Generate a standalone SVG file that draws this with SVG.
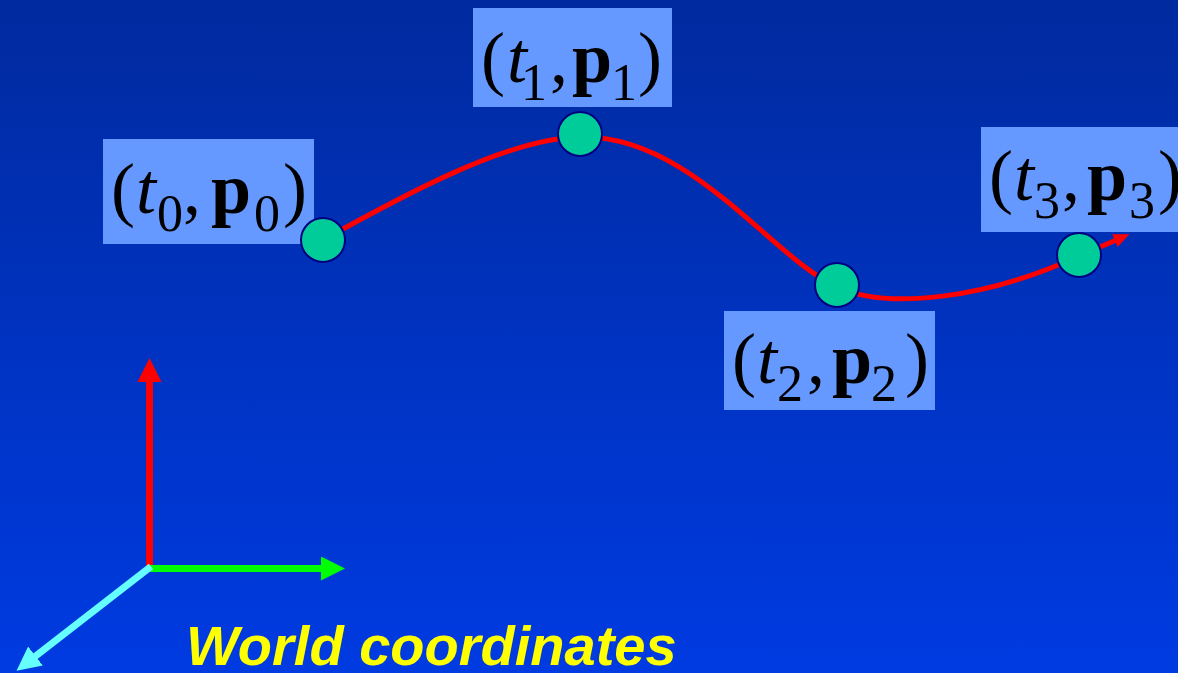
<svg xmlns="http://www.w3.org/2000/svg" width="1178" height="673" viewBox="0 0 1178 673">
  <defs>
    <linearGradient id="bg" x1="0" y1="0" x2="0" y2="1">
      <stop offset="0" stop-color="#002A9E"/>
      <stop offset="1" stop-color="#003BE2"/>
    </linearGradient>
    <marker id="headCurve" markerUnits="userSpaceOnUse" markerWidth="18" markerHeight="16" refX="1" refY="7" orient="auto" viewBox="0 0 18 16">
      <path d="M0,0 L16,7 L0,14 Z" fill="#FF0000"/>
    </marker>
    <marker id="headRed" markerUnits="userSpaceOnUse" markerWidth="26" markerHeight="26" refX="1" refY="12" orient="auto" viewBox="0 0 26 26">
      <path d="M0,0 L24,12 L0,24 Z" fill="#FF0000"/>
    </marker>
    <marker id="headGreen" markerUnits="userSpaceOnUse" markerWidth="26" markerHeight="26" refX="1" refY="12" orient="auto" viewBox="0 0 26 26">
      <path d="M0,0 L24,12 L0,24 Z" fill="#00FF00"/>
    </marker>
    <marker id="headCyan" markerUnits="userSpaceOnUse" markerWidth="26" markerHeight="26" refX="1" refY="12" orient="auto" viewBox="0 0 26 26">
      <path d="M0,0 L24,12 L0,24 Z" fill="#66FFFF"/>
    </marker>
  </defs>
  <style>
    .box { fill: #6699FF; }
    .pt { fill: #00CC99; stroke: #000080; stroke-width: 2; }
    .lbl { font-family: "Liberation Serif", "Times New Roman", serif; font-size: 72px; fill: #000000; }
    .it { font-style: italic; }
    .bd { font-weight: bold; }
    .sub { font-size: 52px; }
    .curve { fill: none; stroke: #FF0000; stroke-width: 5; }
    .axis { fill: none; stroke-width: 7; }
    .title { font-family: "Liberation Sans", Arial, sans-serif; font-size: 56px; font-weight: bold; font-style: italic; fill: #FFFF00; }
  </style>
  <rect x="0" y="0" width="1178" height="673" fill="url(#bg)"/>

  <g id="connectors">
    <path id="trajectory" class="curve" d="M323,240 C390,203 505,138 580,137 C690,134 772,258 837,287 C890,311 990,297 1079,256 L1115.7,240.2" marker-end="url(#headCurve)"/>
    <line id="axis-y" class="axis" x1="149.5" y1="567" x2="149.5" y2="381" stroke="#FF0000" marker-end="url(#headRed)"/>
    <line id="axis-x" class="axis" x1="147" y1="568.5" x2="322" y2="568.5" stroke="#00FF00" marker-end="url(#headGreen)"/>
    <line id="axis-z" class="axis" x1="151" y1="566.5" x2="34.7" y2="656.7" stroke="#66FFFF" marker-end="url(#headCyan)"/>
  </g>

  <g id="label0">
    <rect class="box" x="103" y="139" width="211" height="105"/>
    <text class="lbl"><tspan x="111" y="213">(</tspan><tspan class="it" x="136" y="213">t</tspan><tspan class="sub" x="157" y="231">0</tspan><tspan x="183" y="213">,</tspan><tspan class="bd" x="211" y="213">p</tspan><tspan class="sub" x="254" y="231">0</tspan><tspan x="283" y="213">)</tspan></text>
  </g>
  <g id="label1">
    <rect class="box" x="473" y="8" width="199" height="99"/>
    <text class="lbl"><tspan x="481" y="82">(</tspan><tspan class="it" x="507" y="82">t</tspan><tspan class="sub" x="521" y="100">1</tspan><tspan x="550" y="82">,</tspan><tspan class="bd" x="572" y="82">p</tspan><tspan class="sub" x="611" y="100">1</tspan><tspan x="638" y="82">)</tspan></text>
  </g>
  <g id="label2">
    <rect class="box" x="724" y="311" width="211" height="99"/>
    <text class="lbl"><tspan x="732" y="383">(</tspan><tspan class="it" x="757" y="383">t</tspan><tspan class="sub" x="777" y="401">2</tspan><tspan x="807" y="383">,</tspan><tspan class="bd" x="832" y="383">p</tspan><tspan class="sub" x="871" y="401">2</tspan><tspan x="905" y="383">)</tspan></text>
  </g>
  <g id="label3">
    <rect class="box" x="981" y="127" width="197" height="105"/>
    <text class="lbl"><tspan x="989" y="200">(</tspan><tspan class="it" x="1014" y="200">t</tspan><tspan class="sub" x="1034" y="218">3</tspan><tspan x="1062" y="200">,</tspan><tspan class="bd" x="1087" y="200">p</tspan><tspan class="sub" x="1129" y="218">3</tspan><tspan x="1158" y="200">)</tspan></text>
  </g>

  <g id="point0"><circle class="pt" cx="323" cy="240" r="22"/></g>
  <g id="point1"><circle class="pt" cx="580" cy="134" r="22"/></g>
  <g id="point2"><circle class="pt" cx="837" cy="285" r="22"/></g>
  <g id="point3"><circle class="pt" cx="1079" cy="255" r="22"/></g>

  <g id="caption">
    <text class="title" x="186" y="665">World coordinates</text>
  </g>
</svg>
